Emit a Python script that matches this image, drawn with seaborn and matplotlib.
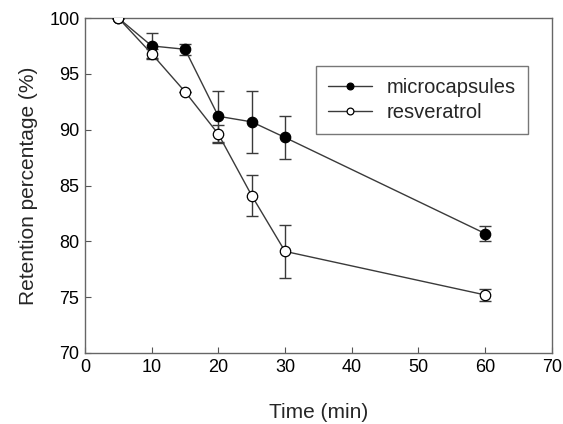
import numpy as np
import pandas as pd
import matplotlib
matplotlib.use("Agg")
import matplotlib.pyplot as plt
import seaborn as sns

# data
time_min = [5, 10, 15, 20, 25, 30, 60]
micro_mean = [100.0, 97.5, 97.2, 91.2, 90.7, 89.3, 80.7]
micro_err = [0.0, 1.2, 0.5, 2.3, 2.75, 1.9, 0.7]
resv_mean = [100.0, 96.8, 93.4, 89.6, 84.1, 79.1, 75.2]
resv_err = [0.0, 0.4, 0.0, 0.8, 1.85, 2.35, 0.55]

line_col = "#3a3a3a"

sns.set_style("ticks")
plt.rcParams['font.family'] = ['Liberation Sans', 'DejaVu Sans']

fig = plt.figure(figsize=(5.63, 4.24), dpi=100)
ax = fig.add_axes([0.151, 0.1675, 0.829, 0.79])

df = pd.DataFrame({"time": time_min * 2,
                   "ret": micro_mean + resv_mean,
                   "err": micro_err + resv_err,
                   "series": ["microcapsules"] * 7 + ["resveratrol"] * 7})

styles = {"microcapsules": "black", "resveratrol": "white"}
for name, fc in styles.items():
    sub = df[df.series == name]
    ax.errorbar(sub.time, sub.ret, yerr=sub.err, fmt="none", ecolor=line_col,
                elinewidth=1, capsize=4.5, capthick=1, zorder=2)
    sns.lineplot(data=sub, x="time", y="ret", ax=ax, color=line_col, lw=1,
                 marker="o", markersize=7.5, markerfacecolor=fc,
                 markeredgecolor="black", markeredgewidth=0.9, label=name,
                 zorder=3)

ax.set_xlim(0, 70)
ax.set_ylim(70, 100)
ax.set_xticks(range(0, 71, 10))
ax.set_yticks(range(70, 101, 5))
ax.tick_params(direction="in", length=4, width=0.8, colors="#555555",
               labelcolor="black", labelsize=13, pad=4)
for s in ax.spines.values():
    s.set_color("#666666")
    s.set_linewidth(1)

ax.set_xlabel("Time (min)", fontsize=15, labelpad=20)
ax.set_ylabel("Retention percentage (%)", fontsize=15, labelpad=8)

leg = ax.legend(loc="upper left", bbox_to_anchor=(0.495, 0.857),
                borderaxespad=0, fontsize=14.5,
                frameon=True, fancybox=False, edgecolor="#555555",
                markerscale=0.65, handlelength=2.2, handletextpad=0.7,
                borderpad=0.6, labelspacing=0.3)
leg.get_frame().set_linewidth(1)

fig.savefig("out.png", dpi=100)
